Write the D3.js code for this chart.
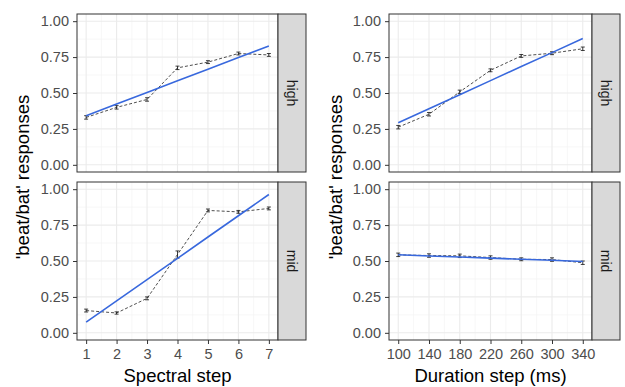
<!DOCTYPE html>
<html><head><meta charset="utf-8">
<script src="https://cdn.jsdelivr.net/npm/d3@7"></script>
<style>body{margin:0;background:#fff;} svg{display:block;font-family:"Liberation Sans",Arial,sans-serif;}</style>
</head><body>
<svg id="c" width="625" height="387"></svg>
<script>
const spectralSteps = [1,2,3,4,5,6,7];
const durationSteps = [100,140,180,220,260,300,340];
const rows = ["high","mid"];
const yTicks = [0,0.25,0.5,0.75,1];
const yTickLabels = ["0.00","0.25","0.50","0.75","1.00"];

const spectralHighMean = [0.33,0.40,0.455,0.675,0.715,0.775,0.765];
const spectralHighSe   = [0.012,0.012,0.012,0.012,0.010,0.010,0.010];
const spectralHighFit  = [0.342,0.423,0.504,0.585,0.666,0.747,0.828];
const spectralMidMean  = [0.155,0.138,0.240,0.545,0.852,0.842,0.866];
const spectralMidSe    = [0.010,0.008,0.010,0.025,0.010,0.010,0.010];
const spectralMidFit   = [0.074,0.222,0.370,0.518,0.667,0.815,0.963];

const durationHighMean = [0.262,0.352,0.508,0.658,0.758,0.777,0.808];
const durationHighSe   = [0.012,0.012,0.012,0.010,0.010,0.010,0.012];
const durationHighFit  = [0.293,0.391,0.488,0.586,0.684,0.781,0.879];
const durationMidMean  = [0.543,0.538,0.536,0.524,0.512,0.510,0.488];
const durationMidSe    = [0.012,0.012,0.012,0.012,0.010,0.012,0.012];
const durationMidFit   = [0.543,0.535,0.528,0.520,0.512,0.505,0.497];

const svg = d3.select("#c");
const panelsTop = [14, 182];
const panelH = 158;
const cols = [
  {x0:77, x1:278, steps:spectralSteps, dom:[1,7], title:"Spectral step",
   data:{high:[spectralHighMean,spectralHighSe,spectralHighFit], mid:[spectralMidMean,spectralMidSe,spectralMidFit]}, ylabX:29},
  {x0:389, x1:592, steps:durationSteps, dom:[100,340], title:"Duration step (ms)",
   data:{high:[durationHighMean,durationHighSe,durationHighFit], mid:[durationMidMean,durationMidSe,durationMidFit]}, ylabX:342}
];
const stripW = 28;
const tickFont = 14.5;

cols.forEach(col=>{
  const span = col.dom[1]-col.dom[0];
  const x = d3.scaleLinear().domain([col.dom[0]-0.05*span, col.dom[1]+0.05*span]).range([col.x0,col.x1]);
  const minor = [];
  for(let i=0;i<col.steps.length-1;i++) minor.push((col.steps[i]+col.steps[i+1])/2);
  rows.forEach((r,ri)=>{
    const top = panelsTop[ri];
    const y = d3.scaleLinear().domain([-0.05,1.05]).range([top+panelH, top]);
    const g = svg.append("g");
    g.append("rect").attr("x",col.x0).attr("y",top).attr("width",col.x1-col.x0).attr("height",panelH).attr("fill","#fff");
    const yMinor = [0.125,0.375,0.625,0.875];
    g.selectAll(null).data(yMinor).enter().append("line")
      .attr("x1",col.x0).attr("x2",col.x1).attr("y1",d=>y(d)).attr("y2",d=>y(d))
      .attr("stroke","#f2f2f2").attr("stroke-width",0.6);
    g.selectAll(null).data(minor).enter().append("line")
      .attr("y1",top).attr("y2",top+panelH).attr("x1",d=>x(d)).attr("x2",d=>x(d))
      .attr("stroke","#f2f2f2").attr("stroke-width",0.6);
    g.selectAll(null).data(yTicks).enter().append("line")
      .attr("x1",col.x0).attr("x2",col.x1).attr("y1",d=>y(d)).attr("y2",d=>y(d))
      .attr("stroke","#ebebeb").attr("stroke-width",1.1);
    g.selectAll(null).data(col.steps).enter().append("line")
      .attr("y1",top).attr("y2",top+panelH).attr("x1",d=>x(d)).attr("x2",d=>x(d))
      .attr("stroke","#ebebeb").attr("stroke-width",1.1);

    const [mean,se,fit] = col.data[r];
    const pts = col.steps.map((s,i)=>({s,m:mean[i],e:se[i],f:fit[i]}));
    g.append("path").datum(pts).attr("fill","none").attr("stroke","#222").attr("stroke-width",0.8)
      .attr("stroke-dasharray","3,2")
      .attr("d",d3.line().x(d=>x(d.s)).y(d=>y(d.m)));
    const eb = g.selectAll(null).data(pts).enter().append("g");
    eb.append("line").attr("x1",d=>x(d.s)).attr("x2",d=>x(d.s)).attr("y1",d=>y(d.m-d.e)).attr("y2",d=>y(d.m+d.e))
      .attr("stroke","#111").attr("stroke-width",0.8);
    eb.append("line").attr("x1",d=>x(d.s)-2).attr("x2",d=>x(d.s)+2).attr("y1",d=>y(d.m-d.e)).attr("y2",d=>y(d.m-d.e))
      .attr("stroke","#111").attr("stroke-width",0.8);
    eb.append("line").attr("x1",d=>x(d.s)-2).attr("x2",d=>x(d.s)+2).attr("y1",d=>y(d.m+d.e)).attr("y2",d=>y(d.m+d.e))
      .attr("stroke","#111").attr("stroke-width",0.8);
    g.append("path").datum(pts).attr("fill","none").attr("stroke","#3868dd").attr("stroke-width",1.6)
      .attr("d",d3.line().x(d=>x(d.s)).y(d=>y(d.f)));
    g.append("rect").attr("x",col.x0).attr("y",top).attr("width",col.x1-col.x0).attr("height",panelH)
      .attr("fill","none").attr("stroke","#333").attr("stroke-width",1);
    g.append("rect").attr("x",col.x1).attr("y",top).attr("width",stripW).attr("height",panelH)
      .attr("fill","#d9d9d9").attr("stroke","#333").attr("stroke-width",1);
    g.append("text").attr("transform",`translate(${col.x1+stripW/2},${top+panelH/2}) rotate(90)`)
      .attr("text-anchor","middle").attr("dominant-baseline","central")
      .attr("font-size",14).attr("fill","#1a1a1a").text(r);
    const ya = g.append("g").attr("transform",`translate(${col.x0},0)`)
      .call(d3.axisLeft(y).tickValues(yTicks).tickFormat((d,i)=>yTickLabels[i]).tickSize(4).tickPadding(4));
    ya.select(".domain").remove();
    ya.selectAll("line").attr("stroke","#333");
    ya.selectAll("text").attr("fill","#4d4d4d").attr("font-size",tickFont).attr("font-family","Liberation Sans, Arial, sans-serif");
  });
  const bottom = panelsTop[1]+panelH;
  const xa = svg.append("g").attr("transform",`translate(0,${bottom})`)
    .call(d3.axisBottom(x).tickValues(col.steps).tickFormat(d3.format("d")).tickSize(4).tickPadding(5));
  xa.select(".domain").remove();
  xa.selectAll("line").attr("stroke","#333");
  xa.selectAll("text").attr("fill","#4d4d4d").attr("font-size",tickFont).attr("font-family","Liberation Sans, Arial, sans-serif");
  svg.append("text").attr("x",(col.x0+col.x1)/2).attr("y",382).attr("text-anchor","middle")
    .attr("font-size",18.5).attr("fill","#000").text(col.title);
  svg.append("text").attr("transform",`translate(${col.ylabX},${(panelsTop[0]+panelsTop[1]+panelH)/2}) rotate(-90)`)
    .attr("text-anchor","middle").attr("font-size",18.5).attr("fill","#000").text("'beat/bat' responses");
});
</script>
</body></html>
